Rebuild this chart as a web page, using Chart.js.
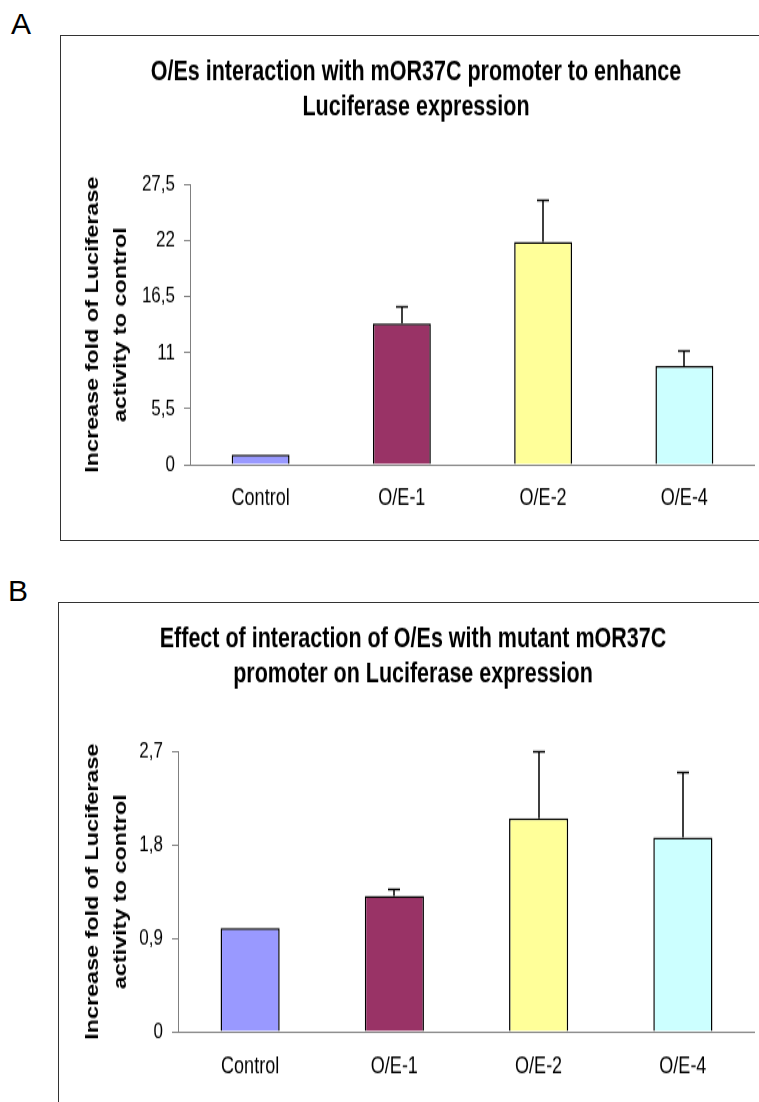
<!DOCTYPE html>
<html>
<head>
<meta charset="utf-8">
<script src="https://cdn.jsdelivr.net/npm/chart.js@4.4.1/dist/chart.umd.min.js"></script>
<style>
  html, body { margin: 0; padding: 0; background: #fff; overflow: hidden; }
  body { width: 759px; height: 1102px; position: relative; font-family: "Liberation Sans", Arial, sans-serif; }
  .letter { position: absolute; font-size: 30px; line-height: 30px; color: #000; }
  .frame { position: absolute; border: 1px solid #333; }
  .frame canvas { position: absolute; top: 0; }
</style>
</head>
<body>
<div class="letter" style="left:11px; top:9px;">A</div>
<div class="frame" style="left:60px; top:35px; width:760px; height:504px;">
  <canvas id="chartA"></canvas>
</div>
<div class="letter" style="left:8px; top:576px;">B</div>
<div class="frame" style="left:58px; top:602px; width:760px; height:600px;">
  <canvas id="chartB"></canvas>
</div>

<script>
// ---- data ----
const categories = ['Control', 'O/E-1', 'O/E-2', 'O/E-4'];
const barColors = ['#9999FF', '#993366', '#FFFF99', '#CCFFFF'];
const yTitle = ['Increase fold of Luciferase', 'activity to control'];

const titleA = ['O/Es interaction with mOR37C promoter to enhance', 'Luciferase expression'];
const valuesA = [1.0, 13.9, 21.9, 9.7];
const errorsA = [0, 1.7, 4.2, 1.5];
const tickValuesA = [0, 5.5, 11, 16.5, 22, 27.5];
const tickLabelsA = ['0', '5,5', '11', '16,5', '22', '27,5'];

const titleB = ['Effect of interaction of O/Es with mutant mOR37C', 'promoter on Luciferase expression'];
const valuesB = [1.0, 1.31, 2.06, 1.875];
const errorsB = [0, 0.065, 0.65, 0.635];
const tickValuesB = [0, 0.9, 1.8, 2.7];
const tickLabelsB = ['0', '0,9', '1,8', '2,7'];

const FONT = '"Liberation Sans", Arial, sans-serif';
// the source figure is stretched vertically, so each chart is drawn
// at a lower bitmap height and scaled up with CSS
const BITMAP_H = 388;
const CSS_H = 504;

// upper error bars (whisker + cap)
const errorBarPlugin = {
    id: 'errorBars',
    afterDatasetsDraw(chart) {
        const { ctx, scales: { y } } = chart;
        const ds = chart.data.datasets[0];
        const meta = chart.getDatasetMeta(0);
        ctx.save();
        ctx.strokeStyle = '#000';
        ctx.lineWidth = 1.5;
        meta.data.forEach((bar, i) => {
            const err = ds.errors[i];
            if (!err) return;
            const x = Math.round(bar.x);
            const yTop = Math.round(y.getPixelForValue(ds.data[i] + err)) + 0.5;
            ctx.beginPath();
            ctx.moveTo(x, bar.y);
            ctx.lineTo(x, yTop);
            ctx.moveTo(x - 6, yTop);
            ctx.lineTo(x + 6, yTop);
            ctx.stroke();
        });
        ctx.restore();
    }
};

function makeChart(id, cfg) {
    const canvas = document.getElementById(id);
    canvas.width = cfg.width;
    canvas.height = BITMAP_H;
    canvas.style.left = cfg.left + 'px';
    canvas.style.width = cfg.width + 'px';
    canvas.style.height = CSS_H + 'px';

    const chart = new Chart(canvas, {
        type: 'bar',
        data: {
            labels: categories,
            datasets: [{
                data: cfg.values,
                errors: cfg.errors,
                backgroundColor: barColors,
                borderColor: '#000',
                borderWidth: 1.5,
                barPercentage: 0.41,
                categoryPercentage: 1
            }]
        },
        options: {
            responsive: false,
            devicePixelRatio: 1,
            animation: false,
            layout: { padding: 0 },
            plugins: {
                legend: { display: false },
                tooltip: { enabled: false },
                title: {
                    display: true,
                    text: cfg.title,
                    color: '#000',
                    font: { family: FONT, size: 21.5, weight: 'bold', lineHeight: 1.256 },
                    padding: { top: 14.6, bottom: 46 }
                }
            },
            scales: {
                x: {
                    grid: { display: false, drawTicks: false, tickLength: 0 },
                    border: { display: true, color: '#808080', width: 1 },
                    ticks: {
                        color: '#000',
                        font: { family: FONT, size: 18 },
                        padding: cfg.xPad,
                        maxRotation: 0,
                        autoSkip: false
                    },
                    afterFit(scale) { scale.height = 58; }
                },
                y: {
                    min: 0,
                    max: cfg.tickValues[cfg.tickValues.length - 1],
                    afterBuildTicks(scale) {
                        scale.ticks = cfg.tickValues.map(v => ({ value: v }));
                    },
                    grid: {
                        display: true,
                        drawOnChartArea: false,
                        drawTicks: true,
                        tickLength: 6,
                        tickColor: '#808080'
                    },
                    border: { display: true, color: '#808080', width: 1 },
                    ticks: {
                        color: '#000',
                        font: { family: FONT, size: 17 },
                        padding: 9,
                        callback: (v) => cfg.tickLabels[cfg.tickValues.indexOf(v)]
                    },
                    title: {
                        display: true,
                        text: yTitle,
                        color: '#000',
                        font: { family: FONT, size: 18, weight: 'bold', lineHeight: 1.556 },
                        padding: { top: cfg.yTitlePad, bottom: 0 }
                    },
                    afterFit(scale) { scale.width = cfg.axisWidth; }
                }
            }
        },
        plugins: [errorBarPlugin]
    });

    canvas.style.width = cfg.width + 'px';
    canvas.style.height = CSS_H + 'px';
    return chart;
}

makeChart('chartA', {
    title: titleA, values: valuesA, errors: errorsA,
    tickValues: tickValuesA, tickLabels: tickLabelsA,
    left: 16, width: 678, axisWidth: 113, yTitlePad: 1.7, xPad: 15
});

makeChart('chartB', {
    title: titleB, values: valuesB, errors: errorsB,
    tickValues: tickValuesB, tickLabels: tickLabelsB,
    left: 12, width: 684, axisWidth: 107, yTitlePad: 7.7, xPad: 16
});
</script>
</body>
</html>
